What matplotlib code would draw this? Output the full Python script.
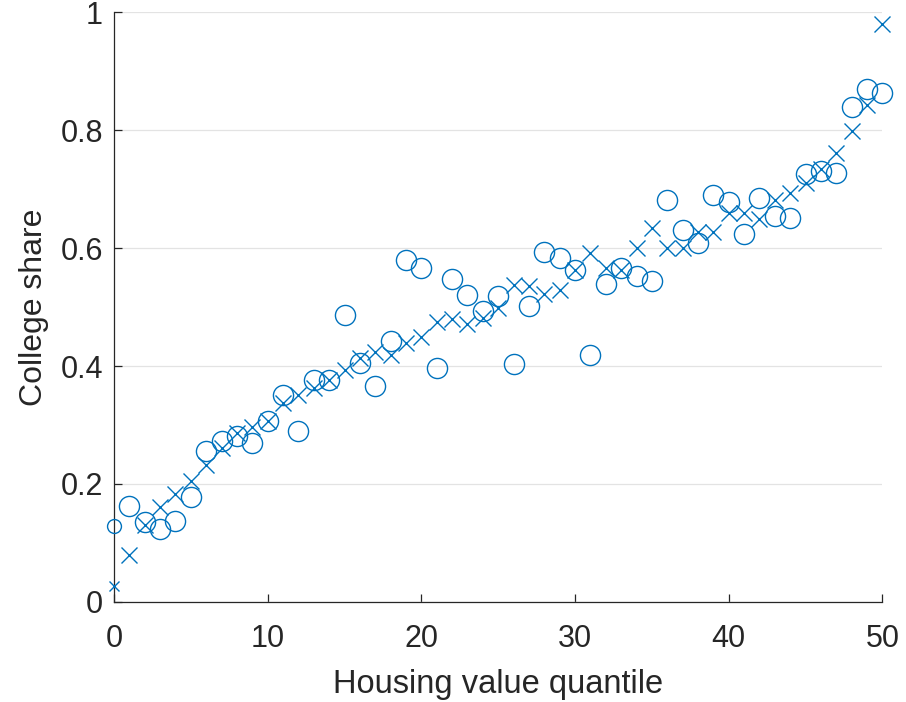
import numpy as np
import matplotlib
matplotlib.use("Agg")
import matplotlib.pyplot as plt

# Housing value quantiles 0..50
quantile = np.arange(0, 51)

# Observed college share by quantile (circles)
college_share_obs = [
    0.128, 0.162, 0.135, 0.123, 0.137, 0.177, 0.256, 0.272, 0.281, 0.269,
    0.306, 0.351, 0.289, 0.376, 0.377, 0.487, 0.405, 0.366, 0.442, 0.580,
    0.567, 0.397, 0.548, 0.521, 0.493, 0.519, 0.403, 0.502, 0.594, 0.584,
    0.563, 0.419, 0.540, 0.566, 0.553, 0.545, 0.681, 0.630, 0.608, 0.690,
    0.679, 0.624, 0.686, 0.654, 0.652, 0.726, 0.731, 0.728, 0.840, 0.870,
    0.864,
]

# Model-implied college share by quantile (crosses)
college_share_model = [
    0.026, 0.079, 0.130, 0.161, 0.182, 0.205, 0.232, 0.260, 0.286, 0.296,
    0.307, 0.337, 0.351, 0.362, 0.377, 0.393, 0.413, 0.424, 0.419, 0.439,
    0.450, 0.475, 0.479, 0.472, 0.481, 0.498, 0.537, 0.536, 0.522, 0.529,
    0.563, 0.591, 0.566, 0.563, 0.601, 0.634, 0.601, 0.601, 0.628, 0.628,
    0.660, 0.660, 0.650, 0.681, 0.694, 0.711, 0.735, 0.762, 0.799, 0.843,
    0.980,
]

x_ticks = [0, 10, 20, 30, 40, 50]
y_ticks = [0, 0.2, 0.4, 0.6, 0.8, 1.0]
y_tick_labels = ["0", "0.2", "0.4", "0.6", "0.8", "1"]

blue = "#0072BD"
dark = "#262626"

plt.rcParams["font.family"] = ["Liberation Sans", "DejaVu Sans"]

fig = plt.figure(figsize=(9.06, 7.02), dpi=100)
ax = fig.add_axes([0.1258, 0.1429, 0.974 - 0.1258, 0.9822 - 0.1429])

obs = np.array(college_share_obs)
mod = np.array(college_share_model)

# Quantile 0 is drawn with smaller markers
ax.plot(quantile[:1], obs[:1], linestyle="none", marker="o", markersize=10,
        markerfacecolor="none", markeredgecolor=blue, markeredgewidth=1.0,
        clip_on=False, zorder=3)
ax.plot(quantile[:1], mod[:1], linestyle="none", marker="x", markersize=7,
        color=blue, markeredgewidth=1.0, clip_on=False, zorder=3)

ax.plot(quantile[1:], obs[1:], linestyle="none", marker="o", markersize=14.5,
        markerfacecolor="none", markeredgecolor=blue, markeredgewidth=1.0,
        clip_on=False, zorder=3)
ax.plot(quantile[1:], mod[1:], linestyle="none", marker="x", markersize=11,
        color=blue, markeredgewidth=1.0, clip_on=False, zorder=3)

ax.set_xlim(0, 50)
ax.set_ylim(0, 1)
ax.set_xticks(x_ticks)
ax.set_yticks(y_ticks)
ax.set_yticklabels(y_tick_labels)

ax.spines["top"].set_visible(False)
ax.spines["right"].set_visible(False)
for side in ("left", "bottom"):
    ax.spines[side].set_color(dark)
    ax.spines[side].set_linewidth(0.9)

ax.tick_params(direction="in", length=6, width=0.9, colors=dark,
               labelsize=22)
ax.tick_params(axis="x", pad=16)
ax.tick_params(axis="y", pad=8)
ax.grid(axis="y", color="#e3e3e3", linewidth=0.9)
ax.set_axisbelow(True)

ax.set_xlabel("Housing value quantile", fontsize=23.5, color=dark, labelpad=11)
ax.set_ylabel("College share", fontsize=23, color=dark, labelpad=8)

fig.savefig("out.png", dpi=100)
